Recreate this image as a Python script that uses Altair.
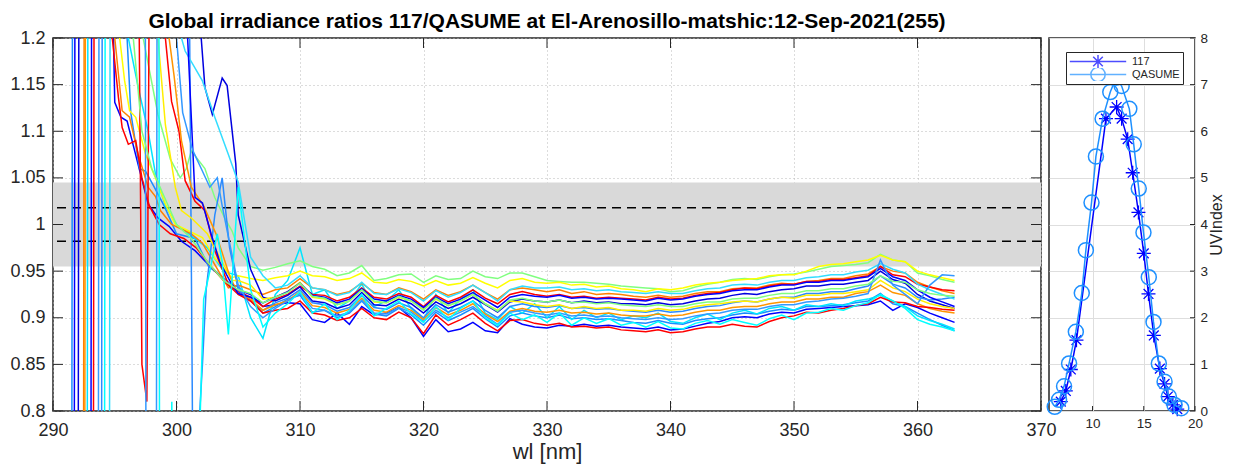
import altair as alt
import pandas as pd

TITLE = "Global irradiance ratios 117/QASUME at El-Arenosillo-matshic:12-Sep-2021(255)"
X_TICKS = [290, 300, 310, 320, 330, 340, 350, 360, 370]
Y_TICKS = [0.8, 0.85, 0.9, 0.95, 1.0, 1.05, 1.1, 1.15, 1.2]
BAND = [0.955, 1.045]
DASH = [0.982, 1.018]
TAIL_WL = list(range(305, 364))

# ---- ratio spectra: head (short wavelengths, irregular) + tail (1 nm, x1000) ----
L1_C = "#0000ff"
L1_W = [291.0, 291.7, 291.8, 294.8, 294.9, 295.0, 295.5, 296.0, 296.9, 297.7, 298.5, 299.4, 300.4, 301.5, 302.3, 303.4, 304.4]
L1_V = [0.5, 0.5, 1.5, 1.5, 1.2, 1.131, 1.115, 1.111, 1.064, 1.022, 1.007, 0.998, 0.982, 0.972, 0.961, 0.947, 0.932]
L1_T = [930, 925, 912, 914, 916, 915, 898, 895, 905, 893,
        912, 903, 905, 911, 900, 880, 898, 885, 888, 895,
        886, 884, 899, 893, 890, 889, 892, 891, 893, 891,
        892, 890, 889, 888, 890, 887, 888, 891, 894, 896,
        900, 901, 900, 904, 906, 905, 909, 910, 911, 912,
        913, 914, 918, 908, 915, 911, 905, 900, 895]

L2_C = "#1a8cff"
L2_W = [291.0, 291.5, 291.6, 295.9, 296.0, 296.3, 297.0, 297.5, 298.2, 299.0, 300.0, 301.5, 302.6, 303.6, 304.4]
L2_V = [0.5, 0.5, 1.5, 1.5, 1.2, 1.12, 1.06, 1.057, 1.04, 1.02, 0.99, 0.985, 0.955, 0.945, 0.936]
L2_T = [933, 918, 905, 912, 920, 924, 906, 908, 900, 905,
        918, 904, 902, 910, 903, 892, 906, 897, 903, 910,
        899, 890, 902, 905, 902, 900, 903, 899, 900, 898,
        899, 897, 895, 894, 897, 894, 893, 897, 899, 900,
        903, 905, 904, 907, 909, 908, 912, 912, 913, 914,
        916, 918, 926, 915, 912, 905, 898, 892, 886]

L3_C = "#00e5ff"
L3_W = [291.0, 292.75, 292.85, 296.0, 296.1, 296.9, 297.7, 298.3, 299.1, 300.0, 301.0, 302.5, 303.8]
L3_V = [0.5, 0.5, 1.5, 1.5, 1.2, 1.147, 1.1, 1.054, 1.02, 1.0, 0.99, 0.975, 0.95]
L3_T = [945, 900, 878, 925, 940, 975, 925, 930, 910, 918,
        936, 912, 918, 930, 910, 898, 925, 905, 920, 930,
        905, 898, 912, 905, 915, 900, 912, 898, 908, 900,
        905, 898, 902, 900, 905, 896, 894, 900, 904, 898,
        905, 908, 904, 910, 912, 908, 914, 912, 915, 913,
        918, 920, 924, 918, 912, 902, 897, 893, 888]

L4_C = "#80ff80"
L4_W = [291.0, 297.2, 297.3, 298.5, 299.5, 300.3, 300.8, 301.2, 302.3, 303.1, 303.9, 304.5]
L4_V = [1.5, 1.5, 1.2, 1.118, 1.07, 1.05, 1.06, 1.079, 1.06, 1.029, 1.007, 0.993]
L4_T = [975, 955, 951, 954, 958, 961, 955, 952, 945, 948,
        956, 940, 942, 946, 947, 938, 945, 941, 942, 950,
        944, 942, 948, 948, 944, 940, 939, 938, 938, 937,
        936, 934, 933, 932, 931, 928, 929, 933, 936, 938,
        941, 942, 941, 944, 946, 947, 949, 952, 955, 956,
        957, 959, 968, 962, 960, 948, 945, 941, 938]

L5_C = "#ffff00"
L5_W = [291.0, 295.3, 295.4, 295.8, 296.2, 296.7, 297.5, 298.3, 299.1, 299.9, 301.0, 302.1, 303.1, 304.5]
L5_V = [1.5, 1.5, 1.2, 1.154, 1.122, 1.115, 1.075, 1.05, 1.022, 1.0, 0.993, 0.986, 0.964, 0.943]
L5_T = [945, 942, 940, 943, 945, 950, 945, 944, 940, 942,
        948, 938, 937, 941, 939, 934, 940, 935, 937, 943,
        937, 932, 940, 942, 938, 937, 938, 935, 936, 933,
        934, 931, 930, 928, 931, 930, 932, 935, 937, 938,
        940, 941, 942, 945, 946, 946, 950, 955, 957, 958,
        960, 962, 967, 962, 960, 950, 946, 943, 940]

L6_C = "#ff8000"
L6_W = [291.0, 292.45, 292.55, 294.9, 295.0, 295.6, 296.2, 296.9, 297.7, 298.3, 298.7, 299.6, 301.2, 302.1, 303.1, 304.2]
L6_V = [0.5, 0.5, 1.5, 1.5, 1.2, 1.122, 1.115, 1.075, 1.04, 1.03, 1.015, 1.0, 0.99, 0.98, 0.957, 0.932]
L6_T = [935, 930, 925, 930, 932, 942, 932, 930, 925, 928,
        937, 927, 925, 932, 928, 920, 930, 924, 928, 935,
        927, 920, 930, 932, 930, 928, 930, 926, 928, 925,
        926, 925, 923, 922, 924, 922, 923, 926, 928, 928,
        931, 932, 932, 935, 937, 936, 939, 940, 942, 942,
        945, 947, 955, 950, 948, 938, 933, 929, 926]

L7_C = "#ff0000"
L7_W = [291.0, 293.25, 293.35, 296.8, 297.2, 297.6, 297.9, 299.0, 299.1, 299.6, 300.2, 300.7, 301.5, 302.3, 303.1, 304.2]
L7_V = [0.5, 0.5, 1.5, 1.5, 0.85, 0.81, 1.5, 1.5, 1.2, 1.132, 1.1, 1.047, 1.025, 1.015, 0.972, 0.936]
L7_T = [928, 922, 912, 920, 925, 934, 925, 924, 918, 922,
        932, 922, 920, 926, 922, 912, 924, 917, 922, 930,
        921, 915, 925, 928, 925, 923, 925, 922, 923, 921,
        922, 921, 920, 919, 922, 920, 921, 924, 926, 927,
        930, 932, 931, 934, 936, 936, 939, 939, 941, 941,
        943, 945, 955, 946, 944, 936, 933, 930, 929]

L8_C = "#0000e0"
L8_W = [291.0, 292.02, 292.12, 301.9, 302.0, 302.3, 302.9, 303.7, 304.1, 304.8]
L8_V = [0.5, 0.5, 1.5, 1.5, 1.2, 1.147, 1.118, 1.157, 1.149, 1.065]
L8_T = [1010, 952, 922, 918, 924, 933, 918, 916, 910, 914,
        927, 914, 913, 920, 915, 905, 917, 910, 915, 922,
        914, 906, 917, 920, 918, 917, 919, 916, 918, 916,
        917, 915, 915, 914, 916, 914, 915, 918, 920, 921,
        924, 926, 925, 928, 930, 931, 934, 934, 936, 936,
        938, 940, 950, 941, 937, 925, 918, 914, 910]

L9_C = "#2a8aff"
L9_W = [291.0, 293.91, 294.01, 300.9, 301.3, 301.8, 302.1, 302.4, 303.1, 303.7, 304.3]
L9_V = [0.5, 0.5, 1.5, 1.5, 0.78, 0.78, 0.85, 0.93, 1.01, 1.05, 0.975]
L9_T = [930, 918, 908, 916, 921, 930, 916, 914, 907, 911,
        924, 911, 909, 916, 911, 900, 914, 906, 911, 918,
        908, 900, 912, 915, 912, 911, 913, 910, 911, 909,
        910, 908, 907, 906, 908, 906, 907, 910, 912, 913,
        916, 918, 917, 920, 922, 922, 926, 926, 928, 928,
        931, 934, 945, 936, 932, 922, 919, 920, 922]

L10_C = "#33ddff"
L10_W = [291.0, 294.55, 294.65, 300.3, 300.4, 300.7, 302.1, 303.1, 304.2]
L10_V = [0.5, 0.5, 1.5, 1.5, 1.2, 1.186, 1.154, 1.115, 1.075]
L10_T = [1045, 965, 945, 932, 935, 945, 932, 930, 924, 927,
         938, 926, 925, 931, 927, 918, 929, 922, 927, 935,
         927, 918, 930, 934, 932, 932, 933, 930, 931, 929,
         930, 928, 927, 926, 928, 926, 926, 929, 931, 932,
         935, 936, 935, 938, 940, 940, 943, 944, 946, 946,
         949, 951, 958, 952, 948, 936, 930, 925, 920]

L11_C = "#ffee00"
L11_W = [291.0, 298.4, 298.5, 299.1, 299.9, 300.4, 301.2, 302.5, 303.5, 304.5]
L11_V = [1.5, 1.5, 1.2, 1.107, 1.04, 1.015, 1.007, 0.99, 0.965, 0.94]
L11_T = [940, 935, 920, 922, 928, 938, 922, 920, 914, 918,
         930, 917, 916, 922, 918, 909, 920, 913, 918, 925,
         915, 908, 918, 917, 914, 912, 914, 910, 912, 910,
         911, 908, 908, 907, 910, 908, 909, 912, 914, 915,
         917, 918, 917, 920, 922, 921, 924, 924, 926, 926,
         928, 930, 940, 932, 928, 920, 915, 912, 910]

L12_C = "#ff9400"
L12_W = [291.0, 292.55, 292.65, 299.3, 299.4, 299.8, 300.4, 301.2, 302.2, 303.2, 304.3]
L12_V = [0.5, 0.5, 1.5, 1.5, 1.2, 1.16, 1.09, 1.04, 1.02, 0.99, 0.945]
L12_T = [925, 920, 908, 914, 918, 928, 913, 911, 905, 909,
         921, 908, 906, 913, 908, 898, 911, 903, 908, 915,
         904, 896, 907, 910, 907, 906, 908, 905, 906, 904,
         905, 903, 902, 902, 904, 902, 903, 906, 908, 908,
         911, 912, 912, 915, 917, 917, 920, 920, 922, 922,
         926, 928, 935, 927, 924, 915, 910, 907, 905]

L13_C = "#ff0000"
L13_W = [291.0, 294.7, 294.8, 295.3, 295.6, 296.1, 296.7, 297.2, 297.8, 298.6, 299.5, 300.6, 301.6, 302.8, 303.8]
L13_V = [1.5, 1.5, 1.2, 1.136, 1.104, 1.086, 1.09, 1.05, 1.02, 1.0, 0.99, 0.985, 0.975, 0.955, 0.94]
L13_T = [925, 918, 905, 908, 910, 918, 905, 903, 897, 900,
         910, 900, 898, 906, 900, 883, 903, 892, 898, 905,
         894, 886, 897, 898, 894, 892, 894, 890, 891, 889,
         890, 887, 886, 885, 887, 884, 885, 888, 890, 890,
         893, 891, 890, 896, 900, 902, 906, 905, 908, 910,
         913, 915, 922, 917, 916, 912, 911, 909, 908]

L14_C = "#0000ff"
L14_W = [291.0, 293.05, 293.15, 300.8, 300.9, 301.5, 302.1, 302.8, 303.5, 304.3]
L14_V = [0.5, 0.5, 1.5, 1.5, 1.2, 1.029, 1.023, 0.99, 0.96, 0.94]
L14_T = [926, 922, 916, 922, 928, 937, 924, 922, 916, 920,
         931, 920, 918, 924, 920, 911, 922, 915, 920, 927,
         919, 911, 922, 925, 923, 922, 924, 921, 922, 920,
         921, 920, 919, 918, 921, 919, 920, 923, 925, 926,
         929, 930, 930, 933, 935, 935, 938, 938, 940, 940,
         942, 944, 953, 944, 940, 930, 922, 917, 912]

L15_C = "#3399ff"
L15_W = [291.0, 293.65, 293.75, 297.45, 297.55, 298.35, 298.45, 299.9, 300.0, 300.5, 301.3, 302.0, 302.7, 303.3, 303.7, 304.3]
L15_V = [0.5, 0.5, 1.5, 1.5, 0.5, 0.5, 1.5, 1.5, 1.2, 1.12, 1.08, 1.06, 1.04, 1.05, 1.02, 0.98]
L15_T = [935, 912, 900, 910, 918, 926, 910, 908, 902, 906,
         919, 905, 904, 911, 906, 896, 908, 900, 906, 912,
         902, 893, 906, 908, 905, 903, 905, 902, 903, 901,
         902, 900, 899, 898, 900, 898, 899, 902, 904, 905,
         908, 909, 909, 912, 914, 914, 917, 918, 920, 921,
         923, 926, 962, 935, 925, 915, 935, 946, 945]

L16_C = "#00ffff"
L16_W = [291.0, 294.15, 294.25, 298.55, 298.65, 299.5, 299.62, 299.75, 301.7, 302.2, 302.7, 303.3, 303.7, 304.2]
L16_V = [0.5, 0.5, 1.5, 1.5, 0.5, 0.5, 0.81, 0.5, 0.7, 0.92, 0.95, 0.99, 0.96, 0.882]
L16_T = [1040, 930, 890, 905, 915, 928, 905, 915, 898, 908,
         925, 902, 910, 918, 904, 895, 912, 898, 910, 918,
         900, 892, 905, 898, 903, 895, 905, 892, 900, 894,
         899, 892, 895, 890, 896, 889, 888, 894, 897, 893,
         898, 895, 892, 899, 903, 898, 905, 906, 910, 908,
         913, 916, 925, 918, 910, 898, 893, 890, 886]

L17_C = "#80ff80"
L17_W = [291.0, 296.4, 296.5, 297.2, 298.0, 299.0, 300.0, 301.2, 302.5, 303.8]
L17_V = [1.5, 1.5, 1.2, 1.1, 1.06, 1.03, 1.0, 0.985, 0.96, 0.94]
L17_T = [930, 926, 916, 922, 927, 937, 923, 921, 914, 918,
         930, 918, 916, 923, 918, 908, 921, 913, 918, 925,
         915, 907, 919, 921, 918, 917, 919, 916, 917, 915,
         916, 914, 913, 912, 914, 912, 912, 915, 917, 917,
         920, 921, 921, 924, 926, 926, 929, 929, 931, 931,
         934, 936, 945, 939, 938, 930, 926, 924, 923]

LINES = [
    (L1_C, L1_W, L1_V, L1_T), (L2_C, L2_W, L2_V, L2_T), (L3_C, L3_W, L3_V, L3_T),
    (L4_C, L4_W, L4_V, L4_T), (L5_C, L5_W, L5_V, L5_T), (L6_C, L6_W, L6_V, L6_T),
    (L7_C, L7_W, L7_V, L7_T), (L8_C, L8_W, L8_V, L8_T), (L9_C, L9_W, L9_V, L9_T),
    (L10_C, L10_W, L10_V, L10_T), (L11_C, L11_W, L11_V, L11_T), (L12_C, L12_W, L12_V, L12_T),
    (L13_C, L13_W, L13_V, L13_T), (L14_C, L14_W, L14_V, L14_T), (L15_C, L15_W, L15_V, L15_T),
    (L16_C, L16_W, L16_V, L16_T), (L17_C, L17_W, L17_V, L17_T),
]

# ---- UV index time series ----
INST = ["117", "QASUME"]
INST_COLORS = ["#0000ff", "#1e90ff"]
T_117 = [6.90, 7.39, 7.88, 8.43, 11.31, 12.35, 12.84, 13.43, 13.92, 14.48, 15.0, 15.46, 15.98, 16.57, 17.03, 17.35, 17.84, 18.27]
UV_117 = [0.20, 0.43, 0.89, 1.52, 6.27, 6.52, 6.27, 5.83, 5.11, 4.26, 3.38, 2.51, 1.62, 0.91, 0.58, 0.31, 0.13, 0.04]
T_Q = [6.31, 6.73, 7.22, 7.71, 8.37, 8.95, 9.35, 9.90, 10.33, 10.98, 11.73, 12.30, 12.84, 13.59, 14.02, 14.51, 14.97, 15.49, 15.95, 16.47, 17.03, 17.45, 18.0, 18.66]
UV_Q = [0.09, 0.24, 0.53, 1.02, 1.70, 2.53, 3.45, 4.47, 5.46, 6.27, 6.84, 7.15, 6.97, 6.48, 5.72, 4.77, 3.83, 2.87, 1.91, 1.02, 0.63, 0.31, 0.13, 0.06]
UV_X_TICKS = [10, 15, 20]
UV_Y_TICKS = [0, 1, 2, 3, 4, 5, 6, 7, 8]

PATH_STAR = "M-1,0L1,0M0,-1L0,1M-0.7,-0.7L0.7,0.7M-0.7,0.7L0.7,-0.7"
LEG_STAR = "M-4.7,0L4.7,0M-1.1,0L1.1,0M0,-1.1L0,1.1M-0.8,-0.8L0.8,0.8M-0.8,0.8L0.8,-0.8"
LEG_CIRC = "M-4.7,0L4.7,0M1.2,0A1.2,1.2,0,1,1,-1.2,0A1.2,1.2,0,1,1,1.2,0"

FONT = "Liberation Sans"
TXT = "#262626"
W_L, H = 988, 373
W_R = 146
TICK_L = 10
TICK_R = 5

# ---------------- build tables ----------------
rows = []
for i, (col, hw, hv, tail) in enumerate(LINES):
    assert len(tail) == len(TAIL_WL), (i, len(tail))
    for w, v in zip(hw, hv):
        rows.append({"id": i, "wl": w, "val": v, "col": col})
    for w, t in zip(TAIL_WL, tail):
        rows.append({"id": i, "wl": w, "val": t / 1000.0, "col": col})
ratios = pd.DataFrame(rows)

band_df = pd.DataFrame({"x1": [X_TICKS[0]], "x2": [X_TICKS[-1]], "y1": [BAND[0]], "y2": [BAND[1]]})
dash_df = pd.DataFrame({"y": DASH})
xt_df = pd.DataFrame({"v": X_TICKS})
yt_df = pd.DataFrame({"v": Y_TICKS})
uxt_df = pd.DataFrame({"v": UV_X_TICKS})
uyt_df = pd.DataFrame({"v": UV_Y_TICKS})

uv = pd.concat([
    pd.DataFrame({"t": T_117, "v": UV_117, "inst": INST[0]}),
    pd.DataFrame({"t": T_Q, "v": UV_Q, "inst": INST[1]}),
], ignore_index=True)

# ---------------- left panel ----------------
xs = alt.Scale(domain=[290, 370], nice=False, zero=False)
ys = alt.Scale(domain=[0.8, 1.2], nice=False, zero=False)

ax_bottom = alt.Axis(values=X_TICKS, title="wl [nm]", titleFontSize=22, titleFontWeight="normal",
                     titleColor=TXT, titlePadding=2, labelFontSize=18, labelColor=TXT, labelPadding=10,
                     ticks=False, domain=False, grid=True,
                     gridDash=[1, 3], gridColor="#b8b8b8", labelFlush=False)
ax_left = alt.Axis(values=Y_TICKS, title=None, format="~g", labelFontSize=18, labelColor=TXT,
                   labelPadding=8, ticks=False, domain=False, grid=True,
                   gridDash=[1, 3], gridColor="#b8b8b8", labelFlush=False)

band = alt.Chart(band_df).mark_rect(color="#d9d9d9").encode(
    x=alt.X("x1:Q", scale=xs, axis=ax_bottom), x2="x2:Q",
    y=alt.Y("y1:Q", scale=ys, axis=ax_left), y2="y2:Q")
dashes = alt.Chart(dash_df).mark_rule(color="black", strokeDash=[9, 6], strokeWidth=1.5).encode(
    y=alt.Y("y:Q", scale=ys))
lines = alt.Chart(ratios).mark_line(clip=True, strokeWidth=1.5).encode(
    x=alt.X("wl:Q", scale=xs), y=alt.Y("val:Q", scale=ys), detail="id:N",
    color=alt.Color("col:N", scale=None))

# inward tick marks on all four sides (MATLAB box style)
tk = dict(color=TXT, strokeWidth=1)
t_bot = alt.Chart(xt_df).mark_rule(**tk).encode(x=alt.X("v:Q", scale=xs), y=alt.value(H), y2=alt.value(H - TICK_L))
t_top = alt.Chart(xt_df).mark_rule(**tk).encode(x=alt.X("v:Q", scale=xs), y=alt.value(0), y2=alt.value(TICK_L))
t_lft = alt.Chart(yt_df).mark_rule(**tk).encode(y=alt.Y("v:Q", scale=ys), x=alt.value(0), x2=alt.value(TICK_L))
t_rgt = alt.Chart(yt_df).mark_rule(**tk).encode(y=alt.Y("v:Q", scale=ys), x=alt.value(W_L), x2=alt.value(W_L - TICK_L))

left = alt.layer(band, dashes, lines, t_bot, t_top, t_lft, t_rgt).properties(
    width=W_L, height=H,
    title=alt.TitleParams(TITLE, fontSize=21, fontWeight="bold", anchor="middle", offset=-3, color="black"))

# ---------------- right panel ----------------
txs = alt.Scale(domain=[5.75, 20], nice=False, zero=False)
uys = alt.Scale(domain=[0, 8], nice=False, zero=False)
uax_x = alt.Axis(values=UV_X_TICKS, title=None, labelFontSize=13.5, labelColor=TXT, labelPadding=5,
                 ticks=False, domain=False, grid=True, gridColor="#dedede", labelFlush=False)
uax_y = alt.Axis(values=UV_Y_TICKS, orient="right", title="UVIndex", titleFontSize=16,
                 titleFontWeight="normal", titleColor=TXT, titleAngle=270, titleBaseline="top",
                 titlePadding=1, labelFontSize=13.5, labelColor=TXT, labelPadding=5, ticks=False,
                 domain=False, grid=True, gridColor="#dedede", labelFlush=False)

base = alt.Chart(uv)
l117 = base.transform_filter(alt.datum.inst == INST[0]).mark_line(color=INST_COLORS[0], strokeWidth=1.5).encode(
    x=alt.X("t:Q", scale=txs, axis=uax_x), y=alt.Y("v:Q", scale=uys, axis=uax_y))
p117 = base.transform_filter(alt.datum.inst == INST[0]).mark_point(
    shape=PATH_STAR, size=196, filled=False, strokeWidth=1.3, color=INST_COLORS[0], opacity=1).encode(
    x="t:Q", y="v:Q")
lq = base.transform_filter(alt.datum.inst == INST[1]).mark_line(color=INST_COLORS[1], strokeWidth=1.5).encode(
    x="t:Q", y="v:Q")
pq = base.transform_filter(alt.datum.inst == INST[1]).mark_point(
    shape="circle", size=225, filled=False, strokeWidth=1.5, color=INST_COLORS[1], opacity=1).encode(
    x="t:Q", y="v:Q")

leg_kw = dict(orient="none", legendX=17, legendY=14, title=None, fillColor="white", strokeColor=TXT,
              padding=3, symbolSize=144, symbolStrokeWidth=1.5, symbolFillColor="transparent",
              symbolOffset=22, labelOffset=27, labelFontSize=11, labelColor=TXT, rowPadding=0,
              clipHeight=13, zindex=1)
legend_layer = base.transform_filter("false").mark_point(filled=False, strokeWidth=1.5).encode(
    x="t:Q", y="v:Q",
    color=alt.Color("inst:N", scale=alt.Scale(domain=INST, range=INST_COLORS), legend=alt.Legend(**leg_kw)),
    shape=alt.Shape("inst:N", scale=alt.Scale(domain=INST, range=[LEG_STAR, LEG_CIRC]), legend=alt.Legend(**leg_kw)))

ut_bot = alt.Chart(uxt_df).mark_rule(**tk).encode(x=alt.X("v:Q", scale=txs), y=alt.value(H), y2=alt.value(H - TICK_R))
ut_rgt = alt.Chart(uyt_df).mark_rule(**tk).encode(y=alt.Y("v:Q", scale=uys), x=alt.value(W_R), x2=alt.value(W_R - TICK_R))

right = alt.layer(l117, p117, lq, pq, ut_bot, ut_rgt, legend_layer).properties(width=W_R, height=H)

chart = alt.hconcat(left, right, spacing=8, bounds="flush").resolve_scale(
    color="independent", shape="independent").resolve_legend(
    color="independent", shape="independent").properties(
    padding={"left": 1, "right": 0, "top": 2, "bottom": 2}).configure(font=FONT).configure_view(
    stroke="#262626", strokeWidth=1.5)

chart.save("out.html", embed_options={"renderer": "svg", "actions": False})
